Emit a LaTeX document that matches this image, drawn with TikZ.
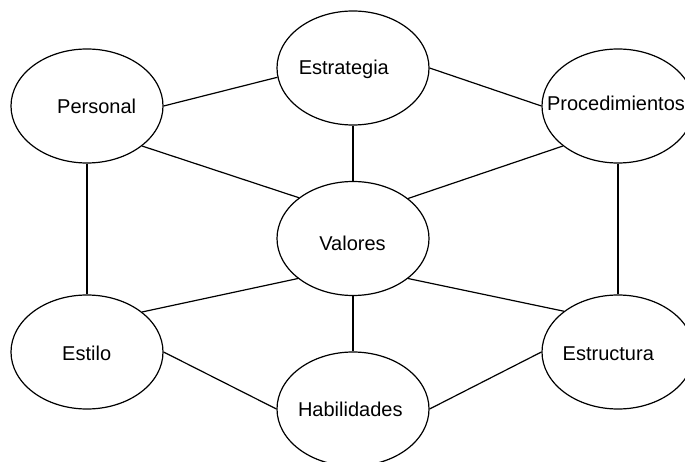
\documentclass[tikz,border=0pt]{standalone}
\usepackage{fontspec}
\setmainfont{Liberation Sans}
\usetikzlibrary{shapes.geometric}
\begin{document}
\begin{tikzpicture}[x=1pt,y=-1pt,
  bubble/.style={ellipse,draw,line width=1.2pt,minimum width=152pt,minimum height=114pt,inner sep=0pt},
  word/.style={anchor=base,inner sep=0pt,font=\fontsize{20}{24}\selectfont},
  link/.style={line width=1.2pt}]
\useasboundingbox (0,0) rectangle (685,462);
\clip (0,0) rectangle (685,462);
% bubbles
\node[bubble] (per)  at (87,106)  {};
\node[bubble] (est)  at (353,68)  {};
\node[bubble] (pro)  at (618,106) {};
\node[bubble] (val)  at (353,238.5) {};
\node[bubble] (sti)  at (87,352)  {};
\node[bubble] (stru) at (618,352) {};
\node[bubble] (hab)  at (353,409) {};
% labels
\node[word] (tper)  at (96.7,113.3) {Personal};
\node[word] (test)  at (343.8,75)   {Estrategia};
\node[word] (tpro)  at (616,111)    {Procedimientos};
\node[word] (tval)  at (352.5,251)  {Valores};
\node[word] (tsti)  at (86.7,360)   {Estilo};
\node[word] (tstru) at (608.3,360)  {Estructura};
\node[word] (thab)  at (350.3,416)  {Habilidades};
% links
\draw[link] (per.east) -- (est.187.5);
\draw[link] (est.east) -- (pro.west);
\draw[link] (per.-36.7) -- (val.143.6);
\draw[link] (est.south) -- (val.north);
\draw[link] (pro.-144.4) -- (val.36.9);
\draw[link] (per.south) -- (sti.north);
\draw[link] (pro.south) -- (stru.north);
\draw[link] (val.216.4) -- (sti.36);
\draw[link] (val.-36.4) -- (stru.143.5);
\draw[link] (val.south) -- (hab.north);
\draw[link] (sti.east) -- (hab.west);
\draw[link] (hab.east) -- (stru.west);
\end{tikzpicture}
\end{document}
